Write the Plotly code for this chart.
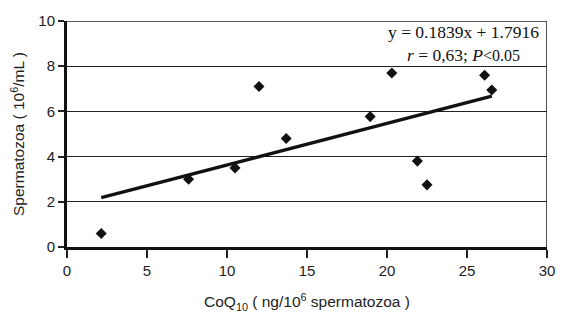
import numpy as np
import plotly.graph_objects as go

# CoQ10 concentration vs sperm count
coq10 = [2.14, 7.6, 10.5, 12.0, 13.7, 18.95, 20.3, 21.9, 22.5, 26.1, 26.55]
sperm = [0.6, 3.0, 3.5, 7.1, 4.8, 5.77, 7.7, 3.8, 2.75, 7.6, 6.95]

slope = 0.1839
intercept = 1.7916

x_ticks = [0, 5, 10, 15, 20, 25, 30]
y_ticks = [0, 2, 4, 6, 8, 10]

fit_x = np.array([min(coq10), max(coq10)])
fit_y = slope * fit_x + intercept

fig = go.Figure()
fig.add_trace(go.Scatter(
    x=fit_x, y=fit_y, mode="lines",
    line=dict(color="#111111", width=3.4), showlegend=False, hoverinfo="skip"))
fig.add_trace(go.Scatter(
    x=coq10, y=sperm, mode="markers",
    marker=dict(symbol="diamond", size=8.5, color="#111111"), showlegend=False))

tick_font = dict(family="Liberation Sans, Arial, sans-serif", size=15, color="#222222")
title_font = dict(family="Liberation Sans, Arial, sans-serif", size=15.5, color="#222222")

fig.update_layout(
    width=567, height=328,
    margin=dict(l=67, r=20, t=16, b=81),
    paper_bgcolor="white", plot_bgcolor="white",
    font=tick_font,
    xaxis=dict(
        range=[0, 30], tickvals=x_ticks, showgrid=False, zeroline=False,
        showline=True, linecolor="#111111", linewidth=3,
        ticks="outside", ticklen=8, tickwidth=1.5, tickcolor="#222222",
        tickfont=tick_font,
        title=dict(text="CoQ<sub>10</sub> ( ng/10<sup>6</sup> spermatozoa )",
                   font=title_font, standoff=19),
    ),
    yaxis=dict(
        range=[0, 10], tickvals=y_ticks, showgrid=True, gridcolor="#222222",
        gridwidth=1.4, zeroline=False,
        showline=True, linecolor="#111111", linewidth=3,
        ticks="outside", ticklen=6, tickwidth=1.5, tickcolor="#222222",
        tickfont=tick_font,
        title=dict(text="Spermatozoa ( 10<sup>6</sup>/mL )", font=title_font, standoff=10),
    ),
)

# thin frame on the top and right sides
fig.add_shape(type="line", xref="x", yref="y", x0=0, x1=30, y0=10, y1=10,
              line=dict(color="#222222", width=1.6), layer="above")
fig.add_shape(type="line", xref="x", yref="y", x0=30, x1=30, y0=0, y1=10,
              line=dict(color="#222222", width=1.6), layer="above")

serif = dict(family="Liberation Serif, Times New Roman, serif", size=17.5, color="#111111")
fig.add_annotation(
    xref="paper", yref="paper", x=0.985, y=1.0, xanchor="right", yanchor="top",
    text=(f"y = {slope}x + {intercept}<br>"
          "<i>r</i> = 0,63; <i>P</i><span style='font-size:16px'>&lt;0.05</span>"),
    showarrow=False, align="center", font=serif, borderpad=0,
)

fig.write_html("out.html")
